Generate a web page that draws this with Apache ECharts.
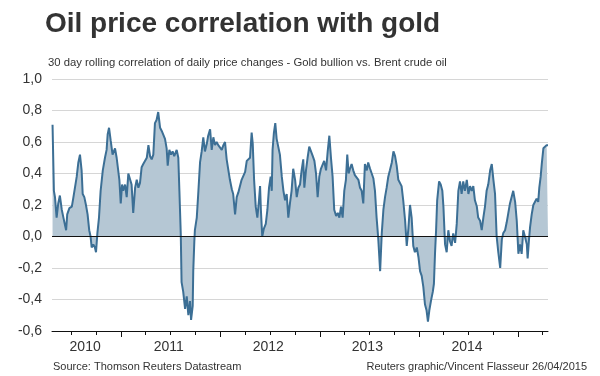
<!DOCTYPE html>
<html>
<head>
<meta charset="utf-8">
<script src="https://cdn.jsdelivr.net/npm/echarts@6/dist/echarts.min.js"></script>
<style>
  html, body { margin: 0; padding: 0; background: #fff; }
  #chart { width: 600px; height: 376px; }
</style>
</head>
<body>
<div id="chart"></div>
<script>
// 30 day rolling correlation
const startDate = '2010-04-21';
const endDate = '2015-04-21';
// days since startDate
const days = [
  2, 7, 11, 17, 23, 29, 36, 42, 52, 56,
  64, 73, 78, 85, 91, 97, 103, 109, 113, 119,
  125, 131, 137, 142, 146, 152, 158, 162, 167, 173,
  179, 187, 195, 201, 205, 210, 216, 223, 232, 238,
  244, 248, 253, 258, 262, 269, 275, 281, 287, 293,
  299, 306, 312, 318, 324, 330, 336, 342, 349, 355,
  361, 367, 373, 379, 385, 391, 398, 404, 410, 416,
  422, 426, 432, 438, 444, 450, 459, 465, 469, 474,
  477, 483, 490, 496, 502, 508, 512, 518, 520, 524,
  526, 533, 539, 545, 551, 557, 563, 570, 575, 582,
  588, 594, 600, 606, 612, 619, 625, 631, 637, 643,
  649, 655, 662, 667, 674, 680, 686, 692, 698, 704,
  711, 717, 723, 729, 735, 739, 744, 750, 756, 762,
  766, 769, 774, 780, 787, 793, 799, 805, 809, 812,
  817, 822, 827, 833, 839, 846, 852, 858, 864, 870,
  876, 882, 888, 895, 901, 907, 913, 919, 925, 929,
  935, 941, 947, 954, 960, 966, 972, 978, 984, 990,
  997, 1002, 1009, 1015, 1021, 1027, 1033, 1039, 1046, 1052,
  1058, 1064, 1070, 1076, 1082, 1087, 1092, 1097, 1103, 1109,
  1115, 1122, 1128, 1134, 1140, 1146, 1152, 1159, 1164, 1171,
  1177, 1183, 1189, 1195, 1201, 1208, 1214, 1220, 1226, 1232,
  1238, 1244, 1251, 1257, 1263, 1269, 1275, 1281, 1287, 1293,
  1300, 1306, 1312, 1318, 1324, 1330, 1336, 1343, 1349, 1355,
  1361, 1367, 1373, 1379, 1384, 1389, 1395, 1402, 1406, 1410,
  1414, 1418, 1425, 1431, 1437, 1441, 1447, 1453, 1459, 1465,
  1471, 1477, 1484, 1490, 1496, 1502, 1508, 1514, 1520, 1527,
  1533, 1539, 1545, 1551, 1557, 1564, 1569, 1576, 1582, 1588,
  1594, 1600, 1606, 1613, 1619, 1625, 1631, 1637, 1643, 1650,
  1656, 1661, 1668, 1674, 1680, 1686, 1692, 1698, 1705, 1711,
  1717, 1723, 1729, 1735, 1741, 1748, 1751, 1756, 1760, 1766,
  1772, 1778, 1784, 1790, 1794, 1799, 1803, 1809, 1815, 1821,
  1826
];
const corr = [
  0.71, 0.29, 0.25, 0.12, 0.21, 0.26, 0.17, 0.12, 0.04, 0.14,
  0.18, 0.19, 0.24, 0.23, 0.38, 0.47, 0.52, 0.42, 0.27, 0.25,
  0.2, 0.14, 0.04, 0.0, -0.07, -0.05, -0.07, -0.1, 0.02, 0.12,
  0.29, 0.42, 0.5, 0.55, 0.65, 0.69, 0.61, 0.52, 0.56, 0.5,
  0.51, 0.36, 0.21, 0.33, 0.29, 0.33, 0.25, 0.4, 0.41, 0.33,
  0.15, 0.31, 0.36, 0.31, 0.34, 0.44, 0.46, 0.47, 0.5, 0.58,
  0.51, 0.49, 0.52, 0.72, 0.74, 0.79, 0.69, 0.67, 0.66, 0.62,
  0.56, 0.45, 0.55, 0.52, 0.54, 0.51, 0.55, 0.5, 0.29, 0.02,
  -0.29, -0.35, -0.46, -0.38, -0.5, -0.41, -0.53, -0.44, -0.22, -0.03,
  0.04, 0.12, 0.29, 0.47, 0.54, 0.63, 0.54, 0.59, 0.64, 0.68,
  0.55, 0.63, 0.58, 0.6, 0.58, 0.57, 0.55, 0.58, 0.6, 0.49,
  0.48, 0.36, 0.3, 0.27, 0.14, 0.25, 0.28, 0.29, 0.36, 0.37,
  0.41, 0.48, 0.49, 0.5, 0.66, 0.59, 0.36, 0.19, 0.12, 0.23,
  0.32, 0.17, 0.0, 0.05, 0.08, 0.17, 0.31, 0.38, 0.29, 0.55,
  0.66, 0.72, 0.62, 0.61, 0.52, 0.38, 0.29, 0.23, 0.27, 0.12,
  0.21, 0.29, 0.43, 0.36, 0.25, 0.31, 0.33, 0.42, 0.49, 0.31,
  0.42, 0.5, 0.57, 0.58, 0.51, 0.48, 0.4, 0.25, 0.38, 0.43,
  0.42, 0.48, 0.42, 0.54, 0.64, 0.5, 0.38, 0.17, 0.13, 0.15,
  0.12, 0.19, 0.12, 0.29, 0.36, 0.52, 0.4, 0.43, 0.46, 0.42,
  0.39, 0.38, 0.36, 0.31, 0.29, 0.21, 0.46, 0.42, 0.47, 0.43,
  0.42, 0.37, 0.29, 0.12, -0.01, -0.22, 0.02, 0.17, 0.25, 0.31,
  0.38, 0.42, 0.47, 0.54, 0.51, 0.45, 0.36, 0.36, 0.32, 0.23,
  0.1, -0.06, 0.05, 0.2, 0.12, -0.06, -0.1, -0.07, -0.13, -0.22,
  -0.25, -0.32, -0.43, -0.47, -0.54, -0.47, -0.41, -0.35, -0.3, -0.11,
  0.04, 0.23, 0.35, 0.33, 0.29, 0.19, -0.05, -0.1, 0.04, -0.03,
  -0.06, 0.02, -0.04, 0.08, 0.29, 0.35, 0.27, 0.35, 0.29, 0.36,
  0.27, 0.32, 0.29, 0.32, 0.23, 0.19, 0.12, 0.1, 0.04, 0.12,
  0.19, 0.29, 0.33, 0.42, 0.46, 0.36, 0.27, 0.0, -0.1, -0.2,
  -0.02, 0.02, 0.04, 0.09, 0.15, 0.21, 0.22, 0.29, 0.22, 0.1,
  -0.11, -0.05, -0.11, 0.04, 0.0, -0.05, -0.14, -0.02, 0.06, 0.14,
  0.2, 0.21, 0.24, 0.22, 0.31, 0.38, 0.46, 0.56, 0.56, 0.58,
  0.58
];
const quarterTicks = [
  '2010-07-01', '2010-10-01', '2011-01-01', '2011-04-01', '2011-07-01', '2011-10-01',
  '2012-01-01', '2012-04-01', '2012-07-01', '2012-10-01', '2013-01-01', '2013-04-01',
  '2013-07-01', '2013-10-01', '2014-01-01', '2014-04-01', '2014-07-01', '2014-10-01',
  '2015-01-01', '2015-04-01'
];
const yearTicks = ['2011-01-01', '2012-01-01', '2013-01-01', '2014-01-01', '2015-01-01'];
const yearLabels = ['2010', '2011', '2012', '2013', '2014'];
const yearLabelDates = ['2010-08-21', '2011-06-25', '2012-06-25', '2013-06-25', '2014-06-27'];

const DAY = 86400000;
const ts = s => Date.parse(s + 'T00:00:00Z');
const t0 = ts(startDate);
const t1 = ts(endDate);
const seriesData = days.map((d, i) => [t0 + d * DAY, corr[i]]);
const labelTs = yearLabelDates.map(ts);

const sans = "'Liberation Sans', Arial, sans-serif";

const myChart = echarts.init(document.getElementById('chart'));
myChart.setOption({
  animation: false,
  title: [
    {
      text: 'Oil price correlation with gold',
      left: 45, top: 10, padding: 0,
      textStyle: { fontFamily: sans, fontSize: 28, fontWeight: 'bold', color: '#333' }
    },
    {
      text: '30 day rolling correlation of daily price changes - Gold bullion vs. Brent crude oil',
      left: 48, top: 57, padding: 0,
      textStyle: { fontFamily: sans, fontSize: 11.3, fontWeight: 'normal', color: '#333' }
    },
    {
      text: 'Source: Thomson Reuters Datastream',
      left: 53, top: 361, padding: 0,
      textStyle: { fontFamily: sans, fontSize: 11, fontWeight: 'normal', color: '#333' }
    },
    {
      text: 'Reuters graphic/Vincent Flasseur 26/04/2015',
      right: 13, top: 361, padding: 0,
      textStyle: { fontFamily: sans, fontSize: 11, fontWeight: 'normal', color: '#333' }
    }
  ],
  grid: { left: 52, right: 52, top: 79, bottom: 45 },
  xAxis: [
    {
      type: 'value',
      min: t0, max: t1,
      position: 'bottom',
      axisLine: { onZero: false, lineStyle: { color: '#111', width: 1 } },
      axisTick: { show: true, length: 4, customValues: quarterTicks.map(ts), lineStyle: { color: '#111' } },
      axisLabel: { show: false },
      splitLine: { show: false }
    },
    {
      type: 'value',
      min: t0, max: t1,
      position: 'bottom',
      axisLine: { show: false, onZero: false },
      axisTick: { show: true, length: 6, customValues: yearTicks.map(ts), lineStyle: { color: '#111' } },
      axisLabel: {
        show: true,
        customValues: labelTs,
        margin: 9,
        fontFamily: sans,
        fontSize: 14,
        color: '#333',
        formatter: v => yearLabels[labelTs.indexOf(v)] || ''
      },
      splitLine: { show: false }
    }
  ],
  yAxis: {
    type: 'value',
    min: -0.6, max: 1.0, interval: 0.2,
    axisLine: { show: false },
    axisTick: { show: false },
    axisLabel: {
      margin: 10,
      fontFamily: sans,
      fontSize: 14,
      color: '#333',
      formatter: v => (Math.abs(v) < 1e-9 ? 0 : v).toFixed(1).replace('.', ',')
    },
    splitLine: { lineStyle: { color: '#d6d6d6', width: 1 } }
  },
  series: [
    {
      type: 'line',
      xAxisIndex: 0,
      data: seriesData,
      symbol: 'none',
      lineStyle: { color: '#3c6f95', width: 2 },
      areaStyle: { color: '#b5c7d4', opacity: 1 },
      markLine: {
        silent: true,
        symbol: 'none',
        label: { show: false },
        lineStyle: { color: '#111', width: 1, type: 'solid' },
        data: [{ yAxis: 0 }]
      }
    }
  ]
});
window.addEventListener('resize', function () {
  myChart.resize();
});
</script>
</body>
</html>
